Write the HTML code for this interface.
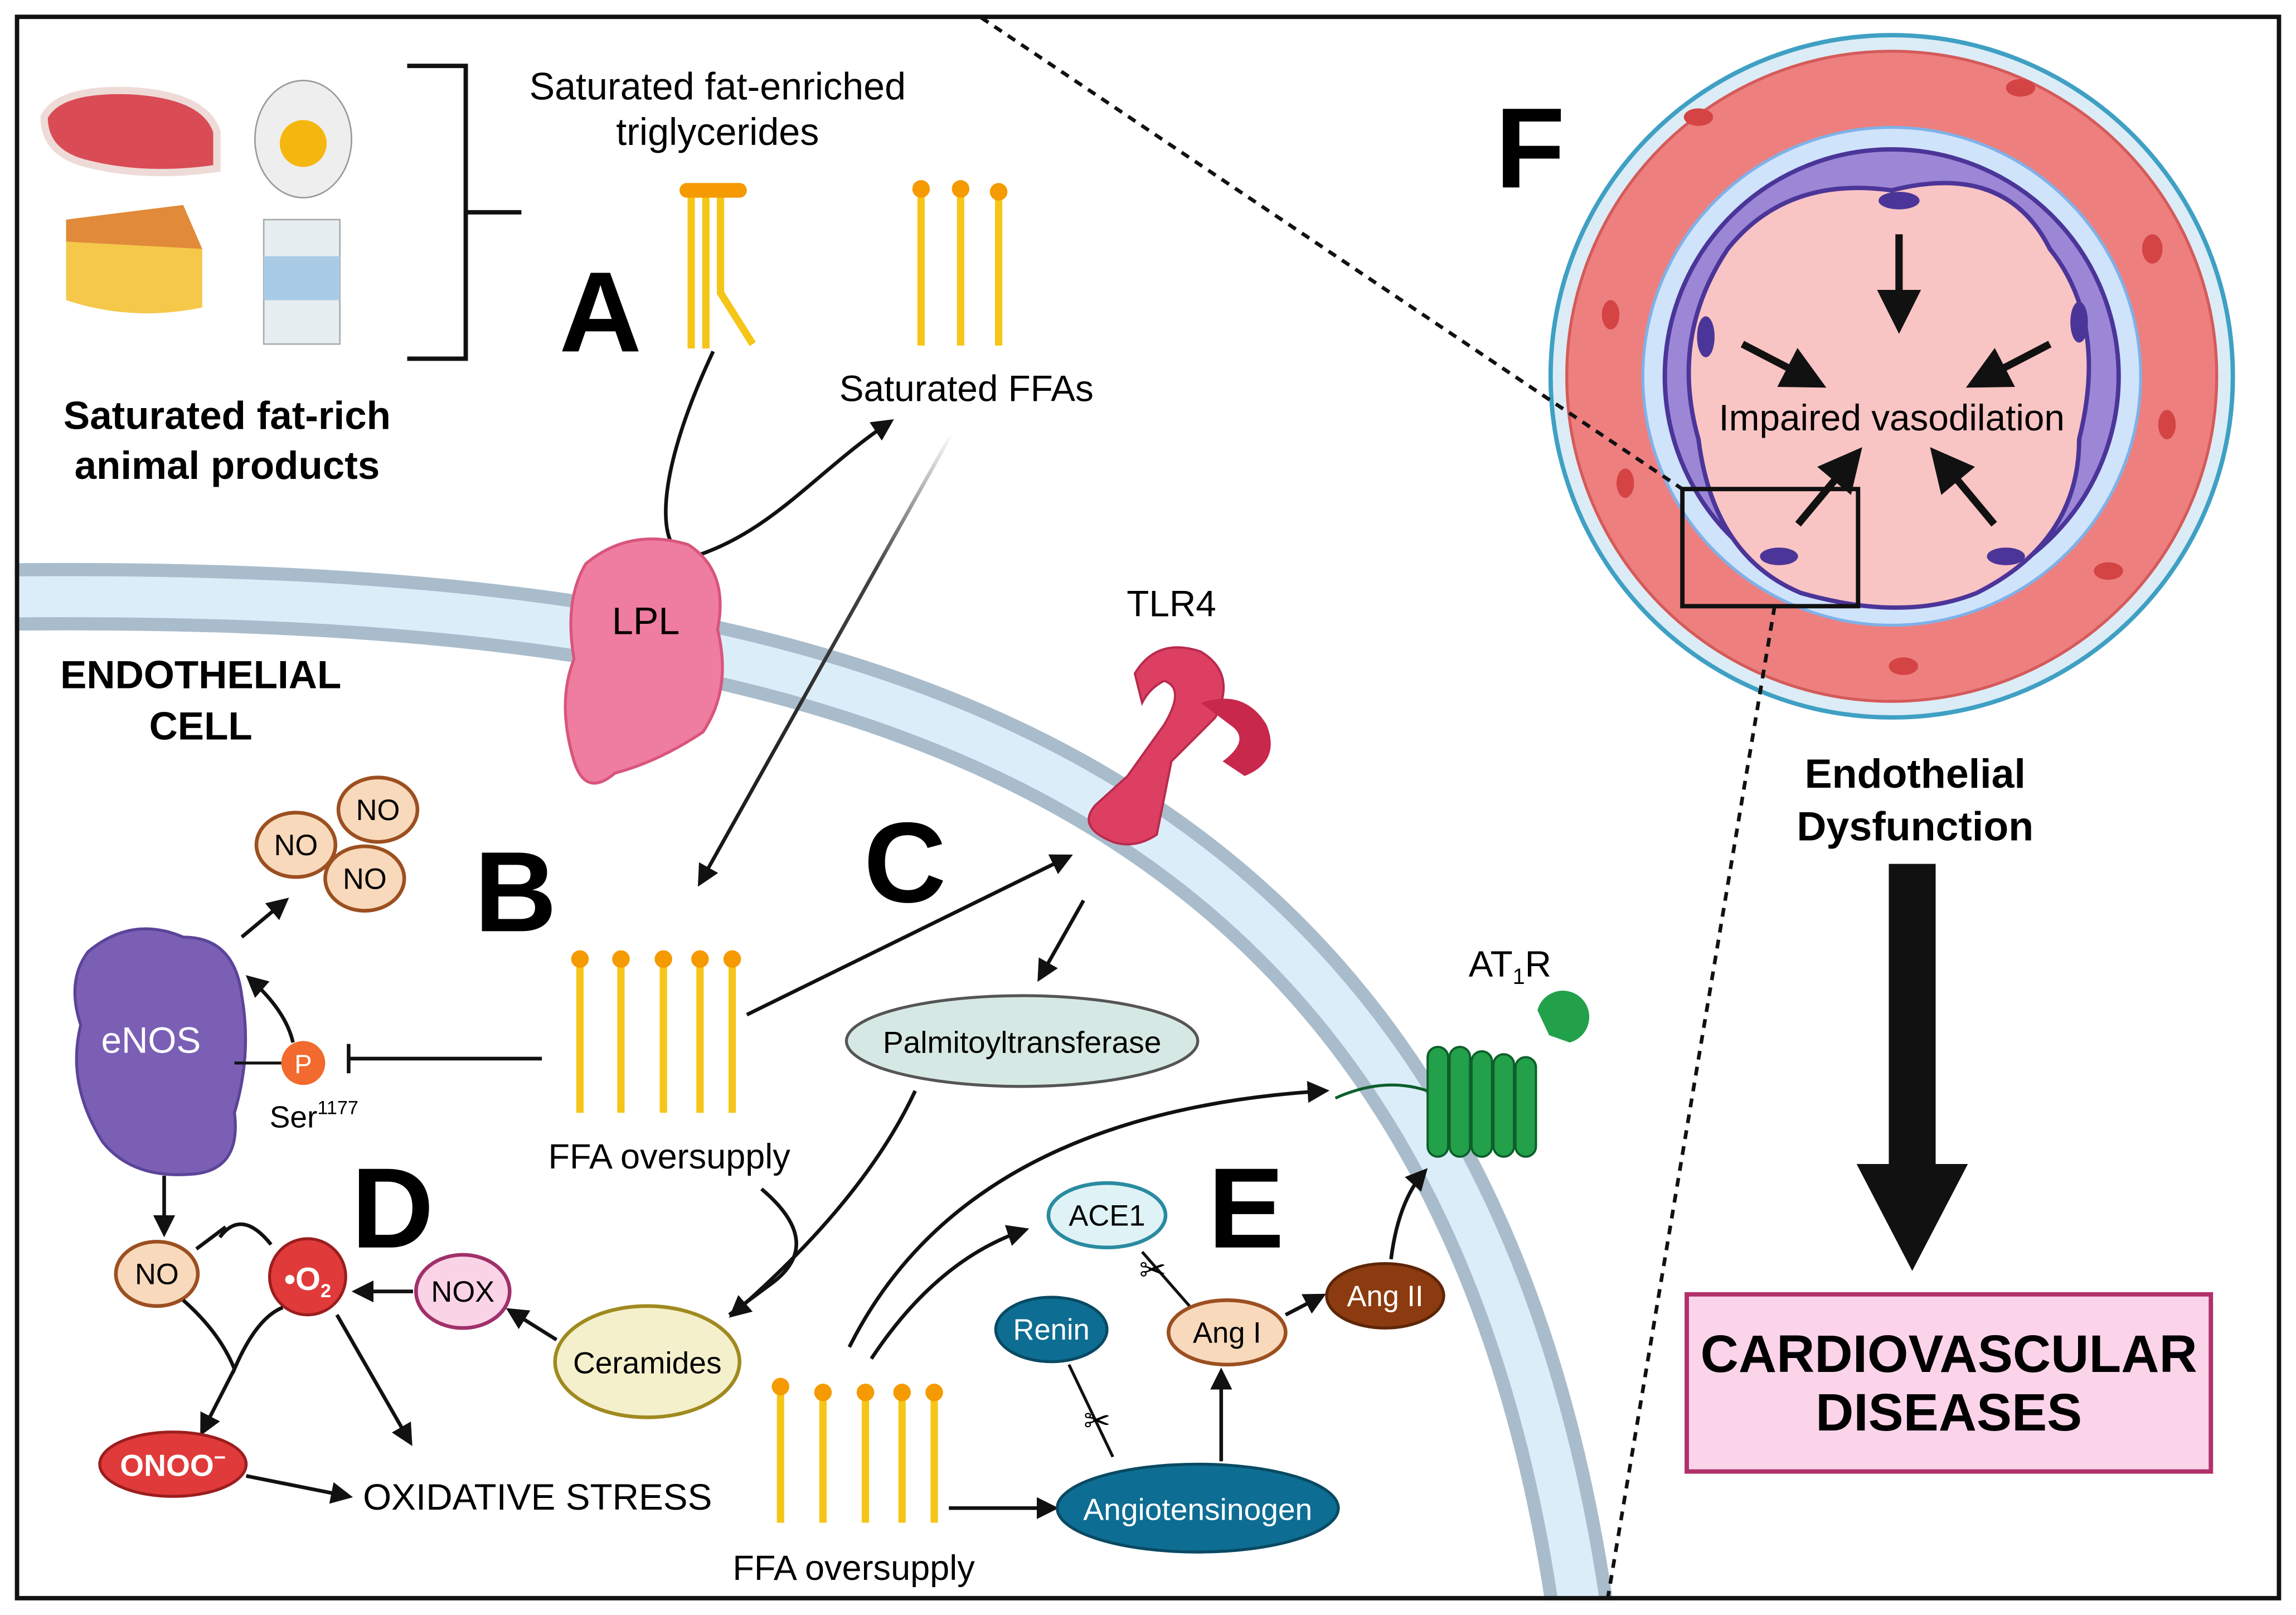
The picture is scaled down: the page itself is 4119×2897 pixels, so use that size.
<!DOCTYPE html>
<html><head><meta charset="utf-8"><style>
html,body{margin:0;padding:0;background:#fff;}
svg{display:block;}
text{font-family:"Liberation Sans",sans-serif;}
</style></head><body>
<svg width="4119" height="2897" viewBox="0 0 1568 1103" xmlns="http://www.w3.org/2000/svg">
<defs>
<marker id="ar" viewBox="0 0 10 10" refX="8" refY="5" markerWidth="6" markerHeight="6" orient="auto"><path d="M0,0 L10,5 L0,10 z" fill="#111"/></marker>
<linearGradient id="gl" x1="0" y1="0" x2="0" y2="1"><stop offset="0" stop-color="#fff"/><stop offset="0.3" stop-color="#444"/><stop offset="1" stop-color="#111"/></linearGradient>
<clipPath id="fr"><rect x="10" y="10" width="1548" height="1083"/></clipPath>
</defs>
<rect width="1568" height="1103" fill="#fff"/>
<g clip-path="url(#fr)">
<path d="M-20 408 C 520 400, 1000 480, 1082 1120" fill="none" stroke="#a9bccb" stroke-width="46"/>
<path d="M-20 408 C 520 400, 1000 480, 1082 1120" fill="none" stroke="#dcedfa" stroke-width="28"/>
</g>
<rect x="11.5" y="11.5" width="1545" height="1080" fill="none" stroke="#111" stroke-width="3"/>

<!-- food -->
<path d="M30 80 Q40 60 90 62 Q140 65 148 90 L148 115 Q100 122 60 112 Q30 105 30 80z" fill="#d94c55" stroke="#eedbd7" stroke-width="5"/>
<path d="M45 150 L125 140 L138 170 L138 210 Q90 220 45 205 z" fill="#f5c84a"/><path d="M45 150 L125 140 L138 170 L45 165z" fill="#e08a3a"/>
<ellipse cx="207" cy="95" rx="33" ry="40" fill="#eee" stroke="#999"/><circle cx="207" cy="98" r="16" fill="#f5b70f"/>
<path d="M180 150 L232 150 L232 235 L180 235z" fill="#e6eef2" stroke="#aaa"/><rect x="180" y="175" width="52" height="30" fill="#a9cbe6"/>
<path d="M278 45 H318 V245 H278 M318 145 H356" fill="none" stroke="#111" stroke-width="3"/>
<text x="490" y="68" font-size="26" text-anchor="middle">Saturated fat-enriched</text>
<text x="490" y="99" font-size="26" text-anchor="middle">triglycerides</text>
<text x="155" y="293" font-size="27" font-weight="bold" text-anchor="middle">Saturated fat-rich</text>
<text x="155" y="327" font-size="27" font-weight="bold" text-anchor="middle">animal products</text>

<g font-weight="bold" font-size="78" text-anchor="middle">
<text x="410" y="240">A</text><text x="352" y="636">B</text><text x="618" y="616">C</text><text x="268" y="852">D</text><text x="851" y="852">E</text><text x="1045" y="128">F</text></g>

<g stroke="#f5c518" stroke-width="5"><line x1="472" y1="132" x2="472" y2="238"/><line x1="482" y1="132" x2="482" y2="238"/><path d="M492 132 V200 L514 235" fill="none"/></g>
<rect x="464" y="125" width="46" height="10" rx="5" fill="#f59a00"/>
<g stroke="#f5c518" stroke-width="5"><line x1="629" y1="130" x2="629" y2="236"/><line x1="656" y1="130" x2="656" y2="236"/><line x1="682" y1="130" x2="682" y2="236"/></g>
<g fill="#f59a00"><circle cx="629" cy="129" r="6"/><circle cx="656" cy="129" r="6"/><circle cx="682" cy="131" r="6"/></g>
<text x="660" y="274" font-size="25" text-anchor="middle">Saturated FFAs</text>
<path d="M487 240 C 440 340, 450 390, 480 378 C 530 360, 560 320, 608 288" fill="none" stroke="#111" stroke-width="2.5" marker-end="url(#ar)"/>
<line x1="650" y1="296" x2="478" y2="603" stroke="url(#gl)" stroke-width="2.5" marker-end="url(#ar)"/>

<path d="M400 385 Q430 360 470 372 Q498 390 490 430 Q500 470 480 500 Q450 520 420 528 Q400 545 392 520 Q380 480 392 450 Q385 410 400 385z" fill="#ef7d9f" stroke="#d8557c" stroke-width="2"/>
<text x="441" y="433" font-size="26" text-anchor="middle">LPL</text>
<text x="137" y="470" font-size="27" font-weight="bold" text-anchor="middle">ENDOTHELIAL</text>
<text x="137" y="505" font-size="27" font-weight="bold" text-anchor="middle">CELL</text>

<g fill="#f8d9bb" stroke="#9c4f20" stroke-width="2.5"><ellipse cx="202" cy="577" rx="27" ry="22"/><ellipse cx="258" cy="553" rx="27" ry="22"/><ellipse cx="249" cy="600" rx="27" ry="22"/></g>
<g font-size="20" text-anchor="middle"><text x="202" y="584">NO</text><text x="258" y="560">NO</text><text x="249" y="607">NO</text></g>
<path d="M60 650 Q90 625 125 640 Q160 640 165 680 Q172 720 160 760 Q165 800 130 802 Q90 805 70 780 Q45 740 55 700 Q45 670 60 650z" fill="#7a5fb5" stroke="#5b4498" stroke-width="2"/>
<text x="103" y="719" font-size="25" fill="#fff" text-anchor="middle">eNOS</text>
<line x1="165" y1="640" x2="195" y2="615" stroke="#111" stroke-width="2.5" marker-end="url(#ar)"/>
<path d="M200 712 Q195 690 170 668" fill="none" stroke="#111" stroke-width="2.5" marker-end="url(#ar)"/>
<line x1="160" y1="726" x2="192" y2="726" stroke="#111" stroke-width="2"/>
<circle cx="207" cy="726" r="15" fill="#f26a2d"/><text x="207" y="733" font-size="18" fill="#fff" text-anchor="middle">P</text>
<text x="184" y="770" font-size="21">Ser<tspan font-size="13" dy="-9">1177</tspan></text>
<path d="M370 723 H238 M238 713 V733" stroke="#111" stroke-width="2.5" fill="none"/>

<g stroke="#f5c518" stroke-width="5"><line x1="396" y1="656" x2="396" y2="760"/><line x1="424" y1="656" x2="424" y2="760"/><line x1="453" y1="656" x2="453" y2="760"/><line x1="478" y1="656" x2="478" y2="760"/><line x1="500" y1="656" x2="500" y2="760"/></g>
<g fill="#f59a00"><circle cx="396" cy="655" r="6"/><circle cx="424" cy="655" r="6"/><circle cx="453" cy="655" r="6"/><circle cx="478" cy="655" r="6"/><circle cx="500" cy="655" r="6"/></g>
<text x="457" y="798" font-size="24" text-anchor="middle">FFA oversupply</text>
<line x1="510" y1="693" x2="730" y2="585" stroke="#111" stroke-width="2.5" marker-end="url(#ar)"/>

<text x="800" y="421" font-size="25" text-anchor="middle">TLR4</text>
<path d="M775 460 Q790 435 820 445 Q845 460 830 490 L800 520 L790 570 Q775 580 760 575 Q735 565 748 550 L770 530 L795 495 Q810 470 795 465 Q785 470 780 480z" fill="#dc3f62" stroke="#b82a4c" stroke-width="1.5"/>
<path d="M820 480 Q850 470 865 495 Q875 520 850 530 L835 520 Q855 505 840 495z" fill="#c8284c"/>
<line x1="740" y1="615" x2="710" y2="668" stroke="#111" stroke-width="2.5" marker-end="url(#ar)"/>
<ellipse cx="698" cy="711" rx="120" ry="31" fill="#d6e8e3" stroke="#555" stroke-width="2"/>
<text x="698" y="719" font-size="21" text-anchor="middle">Palmitoyltransferase</text>
<path d="M625 745 Q590 820 500 898" fill="none" stroke="#111" stroke-width="2.5" marker-end="url(#ar)"/>
<path d="M520 812 Q565 850 525 878 L498 898" fill="none" stroke="#111" stroke-width="2.5"/>

<text x="1003" y="667" font-size="25">AT<tspan font-size="15" dy="5">1</tspan><tspan dy="-5">R</tspan></text>
<g fill="#22a04a" stroke="#0d5f2a" stroke-width="1.5"><rect x="975" y="715" width="14" height="75" rx="7"/><rect x="990" y="715" width="14" height="75" rx="7"/><rect x="1005" y="718" width="14" height="72" rx="7"/><rect x="1020" y="720" width="14" height="70" rx="7"/><rect x="1035" y="722" width="14" height="68" rx="7"/></g>
<path d="M1050 690 a18 18 0 1 1 22 22 l-14 -5 z" fill="#22a04a"/>
<path d="M912 750 Q945 735 975 745" fill="none" stroke="#0d5f2a" stroke-width="2"/>
<path d="M580 920 Q660 760 905 745" fill="none" stroke="#111" stroke-width="2.5" marker-end="url(#ar)"/>
<path d="M595 928 Q640 860 700 840" fill="none" stroke="#111" stroke-width="2.5" marker-end="url(#ar)"/>

<ellipse cx="442" cy="930" rx="63" ry="38" fill="#f5f0cc" stroke="#a08a20" stroke-width="2.5"/>
<text x="442" y="938" font-size="21" text-anchor="middle">Ceramides</text>
<line x1="380" y1="915" x2="348" y2="895" stroke="#111" stroke-width="2.5" marker-end="url(#ar)"/>
<ellipse cx="316" cy="882" rx="32" ry="25" fill="#fbd3e6" stroke="#a0306a" stroke-width="2.5"/>
<text x="316" y="889" font-size="20" text-anchor="middle">NOX</text>
<line x1="282" y1="882" x2="243" y2="882" stroke="#111" stroke-width="2.5" marker-end="url(#ar)"/>
<circle cx="210" cy="872" r="26" fill="#e03a3a" stroke="#9c1d1d" stroke-width="2"/>
<text x="210" y="881" font-size="22" fill="#fff" font-weight="bold" text-anchor="middle">•O<tspan font-size="13" dy="5">2</tspan></text>
<line x1="112" y1="803" x2="112" y2="842" stroke="#111" stroke-width="2.5" marker-end="url(#ar)"/>
<ellipse cx="107" cy="870" rx="28" ry="22" fill="#f8d9bb" stroke="#9c4f20" stroke-width="2.5"/>
<text x="107" y="877" font-size="20" text-anchor="middle">NO</text>
<path d="M185 850 Q165 825 150 845 M134 853 L154 838" fill="none" stroke="#111" stroke-width="2.5"/>
<path d="M125 888 Q150 910 160 935 Q175 900 193 893" fill="none" stroke="#111" stroke-width="2.5"/>
<path d="M160 935 L138 978" stroke="#111" stroke-width="2.5" marker-end="url(#ar)"/>
<line x1="230" y1="898" x2="280" y2="985" stroke="#111" stroke-width="2.5" marker-end="url(#ar)"/>
<ellipse cx="118" cy="1000" rx="50" ry="22" fill="#e03a3a" stroke="#9c1d1d" stroke-width="2"/>
<text x="118" y="1008" font-size="21" fill="#fff" font-weight="bold" text-anchor="middle">ONOO<tspan font-size="14" dy="-8">−</tspan></text>
<line x1="168" y1="1008" x2="238" y2="1022" stroke="#111" stroke-width="2.5" marker-end="url(#ar)"/>
<text x="367" y="1031" font-size="25" text-anchor="middle">OXIDATIVE STRESS</text>

<g stroke="#f5c518" stroke-width="5"><line x1="533" y1="948" x2="533" y2="1040"/><line x1="562" y1="950" x2="562" y2="1040"/><line x1="591" y1="950" x2="591" y2="1040"/><line x1="616" y1="950" x2="616" y2="1040"/><line x1="638" y1="950" x2="638" y2="1040"/></g>
<g fill="#f59a00"><circle cx="533" cy="947" r="6"/><circle cx="562" cy="951" r="6"/><circle cx="591" cy="951" r="6"/><circle cx="616" cy="951" r="6"/><circle cx="638" cy="951" r="6"/></g>
<text x="583" y="1079" font-size="24" text-anchor="middle">FFA oversupply</text>
<line x1="648" y1="1030" x2="720" y2="1030" stroke="#111" stroke-width="2.5" marker-end="url(#ar)"/>

<ellipse cx="756" cy="830" rx="40" ry="22" fill="#dff3f7" stroke="#2a8ba0" stroke-width="2.5"/>
<text x="756" y="837" font-size="20" text-anchor="middle">ACE1</text>
<ellipse cx="718" cy="908" rx="38" ry="22" fill="#0e6d92" stroke="#094a63" stroke-width="2"/>
<text x="718" y="915" font-size="20" fill="#fff" text-anchor="middle">Renin</text>
<line x1="730" y1="932" x2="760" y2="995" stroke="#111" stroke-width="2"/>
<text x="740" y="978" font-size="22">✂</text>
<line x1="780" y1="855" x2="815" y2="895" stroke="#111" stroke-width="2"/>
<text x="778" y="875" font-size="22">✂</text>
<ellipse cx="818" cy="1030" rx="96" ry="30" fill="#0e6d92" stroke="#094a63" stroke-width="2"/>
<text x="818" y="1038" font-size="21" fill="#fff" text-anchor="middle">Angiotensinogen</text>
<line x1="834" y1="998" x2="834" y2="937" stroke="#111" stroke-width="2.5" marker-end="url(#ar)"/>
<ellipse cx="838" cy="910" rx="40" ry="22" fill="#f8d9bb" stroke="#9c4f20" stroke-width="2.5"/>
<text x="838" y="917" font-size="20" text-anchor="middle">Ang I</text>
<line x1="878" y1="898" x2="903" y2="885" stroke="#111" stroke-width="2.5" marker-end="url(#ar)"/>
<ellipse cx="946" cy="885" rx="40" ry="22" fill="#8b3b0f" stroke="#5d2608" stroke-width="2"/>
<text x="946" y="892" font-size="20" fill="#fff" text-anchor="middle">Ang II</text>
<path d="M950 860 Q955 820 973 800" fill="none" stroke="#111" stroke-width="2.5" marker-end="url(#ar)"/>

<circle cx="1292" cy="257" r="233" fill="#dcecf6" stroke="#3fa0c4" stroke-width="3"/>
<circle cx="1292" cy="257" r="222" fill="#ee7f7f" stroke="#d55a5a" stroke-width="2"/>
<circle cx="1292" cy="257" r="170" fill="#cfe3fb" stroke="#7fb1e8" stroke-width="2"/>
<circle cx="1292" cy="257" r="155" fill="#9c86d6" stroke="#4b3598" stroke-width="3"/>
<path d="M1292 130 Q1370 110 1400 170 Q1440 220 1420 300 Q1420 370 1350 405 Q1300 425 1230 405 Q1170 380 1160 300 Q1140 230 1180 170 Q1220 120 1292 130z" fill="#f9c4c4" stroke="#4b3598" stroke-width="3"/>
<g fill="#d44444"><ellipse cx="1100" cy="215" rx="6" ry="10"/><ellipse cx="1160" cy="80" rx="10" ry="6"/><ellipse cx="1480" cy="290" rx="6" ry="10"/><ellipse cx="1440" cy="390" rx="10" ry="6"/><ellipse cx="1300" cy="455" rx="10" ry="6"/><ellipse cx="1380" cy="60" rx="10" ry="6"/><ellipse cx="1110" cy="330" rx="6" ry="10"/><ellipse cx="1470" cy="170" rx="7" ry="10"/></g>
<g fill="#4b3598"><ellipse cx="1297" cy="137" rx="14" ry="6"/><ellipse cx="1420" cy="220" rx="6" ry="14"/><ellipse cx="1370" cy="380" rx="13" ry="6"/><ellipse cx="1215" cy="380" rx="13" ry="6"/><ellipse cx="1165" cy="230" rx="6" ry="14"/></g>
<g stroke="#111" stroke-width="5" marker-end="url(#ar)"><line x1="1297" y1="160" x2="1297" y2="222"/><line x1="1190" y1="235" x2="1242" y2="262"/><line x1="1400" y1="235" x2="1348" y2="262"/><line x1="1228" y1="358" x2="1268" y2="310"/><line x1="1362" y1="358" x2="1322" y2="310"/></g>
<text x="1292" y="294" font-size="25" text-anchor="middle">Impaired vasodilation</text>
<rect x="1149" y="334" width="120" height="80" fill="none" stroke="#111" stroke-width="3"/>
<line x1="670" y1="12" x2="1149" y2="334" stroke="#111" stroke-width="2.5" stroke-dasharray="6,5"/>
<line x1="1212" y1="414" x2="1098" y2="1092" stroke="#111" stroke-width="2.5" stroke-dasharray="6,5"/>
<text x="1308" y="538" font-size="28" font-weight="bold" text-anchor="middle">Endothelial</text>
<text x="1308" y="574" font-size="28" font-weight="bold" text-anchor="middle">Dysfunction</text>
<rect x="1290" y="590" width="32" height="210" fill="#111"/>
<path d="M1268 795 H1344 L1306 868z" fill="#111"/>
<rect x="1152" y="884" width="358" height="121" fill="#fcd4ea" stroke="#b0306a" stroke-width="3"/>
<text x="1331" y="937" font-size="36" font-weight="bold" text-anchor="middle">CARDIOVASCULAR</text>
<text x="1331" y="977" font-size="36" font-weight="bold" text-anchor="middle">DISEASES</text>
</svg>
</body></html>
